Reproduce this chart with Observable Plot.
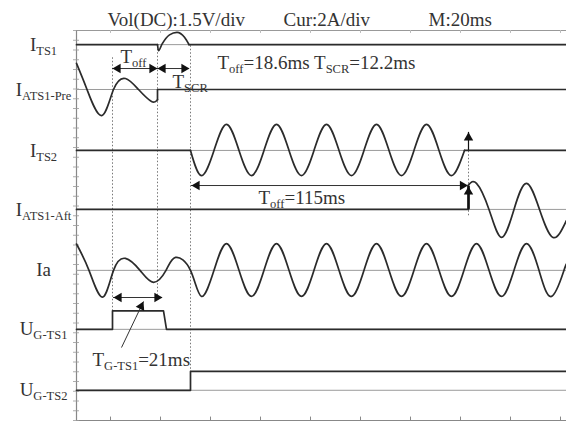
<!DOCTYPE html>
<html><head><meta charset="utf-8">
<script src="https://cdn.jsdelivr.net/npm/d3@7"></script>
<script src="https://cdn.jsdelivr.net/npm/@observablehq/plot@0.6"></script>
<style>body{margin:0;background:#fff}#chart svg{display:block}</style>
</head><body><div id="chart"></div>
<script>
// ---- channels (level in vertical divisions from bottom; scale per division) ----
const channelLabels = ["I_{TS1}", "I_{ATS1-Pre}", "I_{TS2}", "I_{ATS1-Aft}", "Ia", "U_{G-TS1}", "U_{G-TS2}"];
const channelLevels = [7.71, 6.79, 5.54, 4.33, 3.08, 1.87, 0.62];
const channelPerDiv = [2, 2, 2, 2, 2, 1.5, 1.5]; // A/div, V/div

// ---- waveforms: [time ms, value A or V], grouped into segments ----
const iTS1 = [
  {curve: "linear", pts: [[6.4, 0], [38.8, 0]]},
  {curve: "monotone-x", pts: [[38.8, 0], [39.2, -0.25], [40.6, 0.02], [43.6, 0.4], [46.6, 0.5], [49.6, 0.3], [51.4, 0]]},
  {curve: "linear", pts: [[51.4, 0], [202.4, 0]]}
];
const iATS1Pre = [
  {curve: "natural", pts: [[6.4, 1.07], [10.6, 0], [16.4, -1.07], [21.2, 0], [26, 0.45], [31.2, 0], [36.4, -0.49], [38.8, -0.42]]},
  {curve: "linear", pts: [[38.8, -0.42], [38.8, 0], [202.4, 0]]}
];
const iTS2 = [
  {curve: "linear", pts: [[6.4, 0], [52, 0]]},
  {curve: "natural", pts: [[52, 0], [56.4, -1.03], [61.4, 0], [66.4, 1.07], [71.4, 0], [76.4, -1.03], [81.4, 0], [86.4, 1.07], [91.4, 0], [96.4, -1.03], [101.4, 0], [106.4, 1.07], [111.4, 0], [116.4, -1.03], [121.4, 0], [126.4, 1.07], [131.4, 0], [136.4, -1.03], [141.4, 0], [146.4, 1.07], [151.4, 0], [156.4, -1.03], [161.6, 0]]},
  {curve: "linear", pts: [[161.6, 0], [202.4, 0]]}
];
const iATS1Aft = [
  {curve: "linear", pts: [[6.4, 0], [163.2, 0], [163.2, 1.0]]},
  {curve: "natural", pts: [[163.2, 1.0], [166.4, 1.07], [171.4, 0], [176.4, -1.15], [181.4, 0], [186.4, 1.07], [191.6, 0], [197, -1.15], [202.4, -0.45]]}
];
const iA = [
  {curve: "natural", pts: [[6.4, 1.08], [11.4, 0], [16.8, -1.1], [21.2, 0], [26, 0.49], [31.8, 0], [37.2, -0.49], [42.2, 0], [46, 0.53], [52, 0], [56.4, -1.07], [61.4, 0], [66.4, 1.1], [71.4, 0], [76.4, -1.07], [81.4, 0], [86.4, 1.1], [91.4, 0], [96.4, -1.07], [101.4, 0], [106.4, 1.1], [111.4, 0], [116.4, -1.07], [121.4, 0], [126.4, 1.1], [131.4, 0], [136.4, -1.07], [141.4, 0], [146.4, 1.1], [151.4, 0], [156.4, -1.07], [161.4, 0], [166.4, 1.1], [171.4, 0], [176.4, -1.07], [181.4, 0], [186.4, 1.1], [191.4, 0], [196.4, -1.07], [201.4, 0], [202.4, 0.22]]}
];
const uGTS1 = [
  {curve: "linear", pts: [[6.4, 0], [20.8, 0], [20.8, 0.57], [41.2, 0.57], [42.4, 0], [202.4, 0]]}
];
const uGTS2 = [
  {curve: "linear", pts: [[6.4, 0], [52, 0], [52, 0.58], [202.4, 0.58]]}
];
const waveforms = [iTS1, iATS1Pre, iTS2, iATS1Aft, iA, uGTS1, uGTS2];

// ---- axis ticks ----
const xTicks = [20, 40, 60, 80, 100, 120, 140, 160, 180, 200];
const yTicks = d3.range(0, 8.001, 0.2);

// ---- annotations ----
const headerTexts = [
  {t: 18.8, y: 8.22, text: "Vol(DC):1.5V/div"},
  {t: 89.2, y: 8.22, text: "Cur:2A/div"},
  {t: 147.2, y: 8.22, text: "M:20ms"}
];
const noteTexts = [
  {t: 24, y: 7.46, text: "T_{off}"},
  {t: 44.8, y: 6.95, text: "T_{SCR}"},
  {t: 62.8, y: 7.34, text: "T_{off}=18.6ms T_{SCR}=12.2ms"},
  {t: 79.2, y: 4.57, text: "T_{off}=115ms"},
  {t: 12.8, y: 1.25, text: "T_{G-TS1}=21ms"}
];
const guides = [
  {x: 20.8, y1: 2.24, y2: 7.45},
  {x: 38.8, y1: 2.56, y2: 7.71},
  {x: 52, y1: 0.62, y2: 7.71},
  {x: 163.2, y1: 4.2, y2: 5.89}
];
const hArrows = [
  {y: 7.22, x1: 20.8, x2: 38.8},
  {y: 7.22, x1: 38.8, x2: 51.6},
  {y: 4.82, x1: 52.4, x2: 163.0},
  {y: 2.523, x1: 21.2, x2: 40.8}
];
const vArrows = [
  {x: 163.2, y1: 5.54, y2: 5.91, w: 1.2},
  {x: 163.2, y1: 4.33, y2: 4.80, w: 2.6}
];
const leader = [{x1: 24.4, y1: 1.497, x2: 33.2, y2: 2.441}];

// ---- build rows ----
const rows = [];
waveforms.forEach((segs, ci) => {
  segs.forEach((s, si) => s.pts.forEach(([t, v]) => rows.push({
    seg: ci + "-" + si, curve: s.curve, t, y: channelLevels[ci] + v / channelPerDiv[ci]
  })));
});
const channels = channelLabels.map((label, i) => ({label, level: channelLevels[i]}));

const ink = "#2b2b2b";
const textInk = "#333";
const lineMarks = ["linear", "natural", "monotone-x"].map(c =>
  Plot.line(rows.filter(r => r.curve === c), {x: "t", y: "y", z: "seg", curve: c, stroke: ink, strokeWidth: 1.7}));
const head = {symbol: "triangle", r: 3.5, fill: "#111", stroke: "none"};

const chart = Plot.plot({
  width: 566, height: 423,
  marginLeft: 76, marginRight: 0, marginTop: 30, marginBottom: 3,
  x: {domain: [6.4, 202.4], axis: null},
  y: {domain: [0, 8], axis: null},
  style: {fontFamily: "'Liberation Serif', 'Times New Roman', serif", background: "#fff", color: ink},
  marks: [
    Plot.ruleY([8], {stroke: "#999", strokeWidth: 1}),
    Plot.ruleY([0], {stroke: "#888", strokeWidth: 1.2}),
    Plot.ruleX([6.4], {stroke: "#888", strokeWidth: 1.2}),
    Plot.ruleY(yTicks, {y: d => d, x1: 5.2, x2: 7.6, stroke: "#999", strokeWidth: 0.8}),
    Plot.ruleX(xTicks, {x: d => d, y1: 0, y2: 0.07, stroke: "#888"}),
    Plot.ruleX(xTicks, {x: d => d, y1: 7.94, y2: 8, stroke: "#bbb"}),
    Plot.ruleY(channelLevels, {y: d => d, stroke: "#9a9a9a", strokeWidth: 1}),
    Plot.ruleX(guides, {x: "x", y1: "y1", y2: "y2", stroke: "#777", strokeWidth: 1, strokeDasharray: "1.5,2"}),
    ...lineMarks,
    Plot.ruleY(hArrows, {y: "y", x1: "x1", x2: "x2", stroke: "#333", strokeWidth: 1}),
    Plot.dot(hArrows, {x: "x1", y: "y", ...head, rotate: -90, dx: 5.4}),
    Plot.dot(hArrows, {x: "x2", y: "y", ...head, rotate: 90, dx: -5.4}),
    Plot.ruleX(vArrows, {x: "x", y1: "y1", y2: "y2", stroke: "#111", strokeWidth: d => d.w}),
    Plot.dot(vArrows, {x: "x", y: "y2", ...head, rotate: 0, dy: 5.4}),
    Plot.link(leader, {x1: "x1", y1: "y1", x2: "x2", y2: "y2", stroke: "#333", strokeWidth: 1}),
    Plot.dot(leader, {x: "x2", y: "y2", ...head, rotate: 25.6, dx: -2.35, dy: 4.9}),
    Plot.text(channels, {frameAnchor: "left", y: "level", text: "label", dx: -33, textAnchor: "middle", fontSize: 19, fill: textInk}),
    Plot.text(headerTexts, {x: "t", y: "y", text: "text", textAnchor: "start", fontSize: 19, fill: textInk}),
    Plot.text(noteTexts, {x: "t", y: "y", text: "text", textAnchor: "start", fontSize: 19, fill: textInk})
  ]
});

// subscripts: "X_{sub}" -> tspans
d3.select(chart).selectAll("text").each(function() {
  const s = this.textContent;
  if (!s.includes("_{")) return;
  const re = /_\{([^}]*)\}/g;
  const parts = []; let last = 0, m;
  while ((m = re.exec(s))) {
    parts.push({t: s.slice(last, m.index), sub: false});
    parts.push({t: m[1], sub: true});
    last = m.index + m[0].length;
  }
  parts.push({t: s.slice(last), sub: false});
  this.textContent = "";
  let shifted = false;
  const el = d3.select(this);
  for (const p of parts) {
    if (!p.t) continue;
    const ts = el.append("tspan").text(p.t);
    if (p.sub) { ts.attr("font-size", 12.5); if (!shifted) ts.attr("dy", 4); shifted = true; }
    else if (shifted) { ts.attr("dy", -4); shifted = false; }
  }
});
document.getElementById("chart").append(chart);
</script></body></html>
